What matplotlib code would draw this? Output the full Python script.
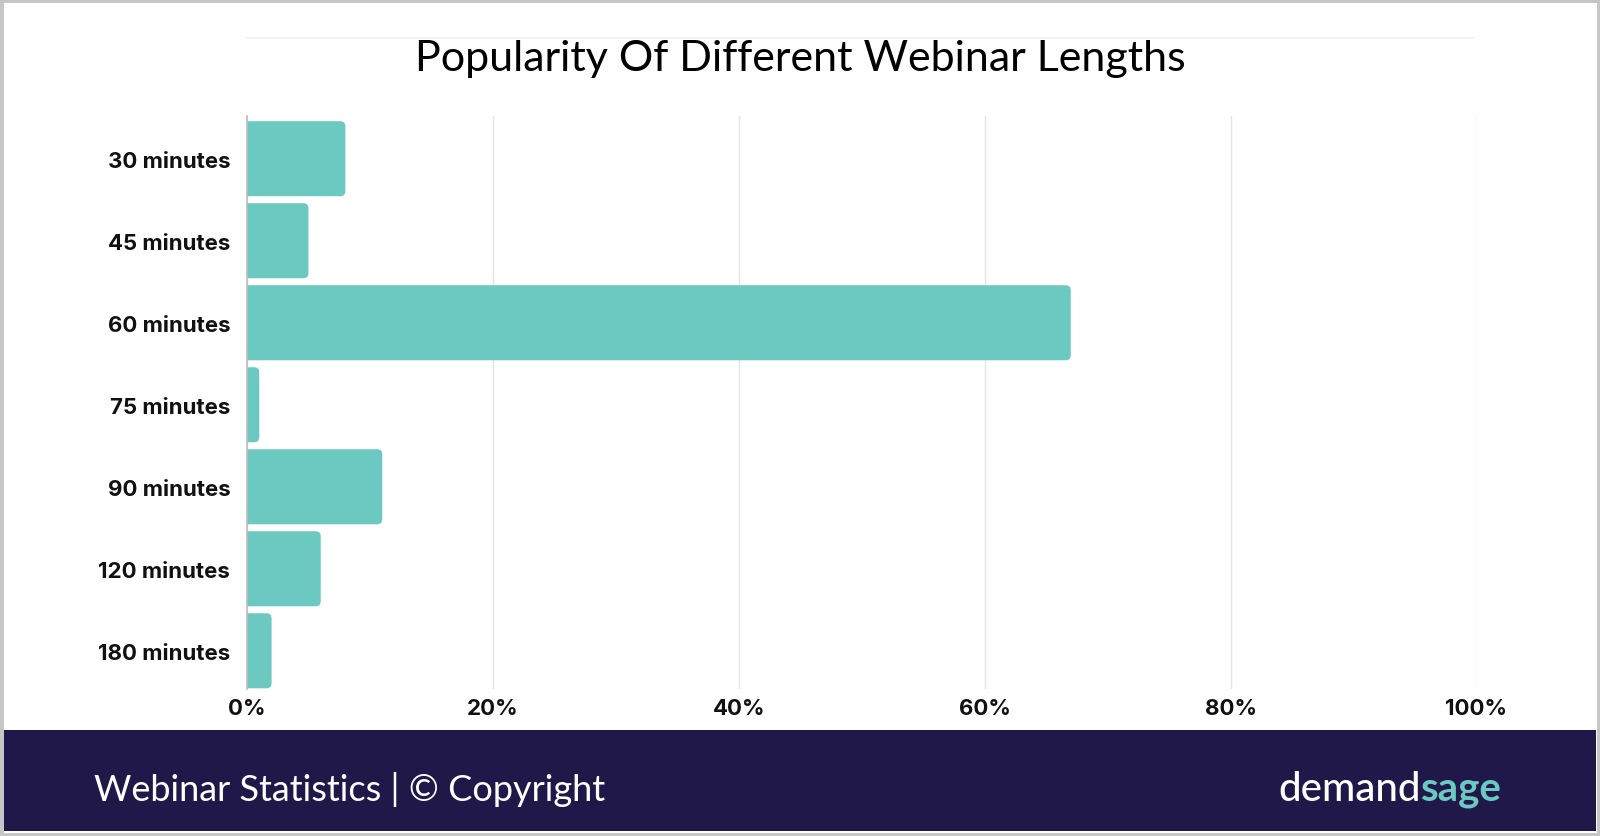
import matplotlib.pyplot as plt
from matplotlib.patches import FancyBboxPatch, Rectangle
import numpy as np

# data
lengths = ['30 minutes', '45 minutes', '60 minutes', '75 minutes',
           '90 minutes', '120 minutes', '180 minutes']
share = [8, 5, 67, 1, 11, 6, 2]
ticks = [0, 20, 40, 60, 80, 100]
tick_labels = ['0%', '20%', '40%', '60%', '80%', '100%']

teal = '#6cc9c2'
navy = '#1f1849'

fig = plt.figure(figsize=(16, 8.37), dpi=100)
fig.patch.set_facecolor('white')
ax = fig.add_axes([247 / 1600, 1 - 689.5 / 837, 1229.5 / 1600, 573 / 837])

y = np.arange(len(lengths))
bars = ax.barh(y, share, height=0.915, color=teal)
# swap the plain bars for ones with rounded right corners
for b in bars:
    x0, y0 = b.get_x(), b.get_y()
    w, h = b.get_width(), b.get_height()
    b.set_visible(False)
    ax.add_patch(FancyBboxPatch((x0 - 1, y0), w + 1, h,
                                boxstyle='round,pad=0,rounding_size=0.42',
                                mutation_aspect=0.148,
                                facecolor=teal, edgecolor='none', zorder=3))

ax.set_xlim(0, 100)
ax.set_ylim(6.46, -0.527)
ax.set_xticks(ticks)
ax.set_xticklabels(tick_labels)
ax.set_yticks(y)
ax.set_yticklabels(lengths)
ax.tick_params(length=0)
ax.tick_params(axis='x', pad=7)
ax.tick_params(axis='y', pad=12)
for lab in ax.get_xticklabels() + ax.get_yticklabels():
    lab.set_fontfamily(['Inter', 'DejaVu Sans'])
    lab.set_fontweight('bold')
    lab.set_fontsize(16)
    lab.set_color('#111111')

ax.grid(axis='x', color='#e4e4e4', linewidth=1)
ax.set_axisbelow(True)
for s in ['top', 'right', 'bottom']:
    ax.spines[s].set_visible(False)
ax.spines['left'].set_color('#bdbdbd')
ax.spines['left'].set_linewidth(1.2)
ax.spines['left'].set_zorder(4)

# title and the faint rule above it
fig.add_artist(plt.Line2D([247 / 1600, 1473 / 1600], [1 - 39 / 837] * 2,
                          color='#eef4f4', linewidth=1.2))
fig.text(0.5, 1 - 59 / 837, 'Popularity Of Different Webinar Lengths',
         ha='center', va='center', fontsize=31, color='black',
         family=['Lato', 'DejaVu Sans'])

# footer band
fig.add_artist(Rectangle((4 / 1600, 5 / 837), 1592 / 1600, 101 / 837,
                         transform=fig.transFigure, facecolor=navy,
                         edgecolor='none'))
fig.text(94 / 1600, 1 - 790 / 837, 'Webinar Statistics | \u00a9 Copyright',
         ha='left', va='center', fontsize=26, color='white',
         family=['Lato', 'DejaVu Sans'])
t = fig.text(1278 / 1600, 1 - 790 / 837, 'demand', ha='left', va='center',
             fontsize=29, color='white', family=['Lato', 'DejaVu Sans'],
             fontweight='medium')
fig.canvas.draw()
bb = t.get_window_extent()
fig.text(bb.x1 / 1600, 1 - 790 / 837, 'sage', ha='left', va='center',
         fontsize=29, color=teal, family=['Lato', 'DejaVu Sans'],
         fontweight='bold')

# outer frame
fig.add_artist(Rectangle((0, 0), 1, 1, transform=fig.transFigure,
                         facecolor='none', edgecolor='#c6c6c6', linewidth=5))

fig.savefig('out.png', dpi=100)
